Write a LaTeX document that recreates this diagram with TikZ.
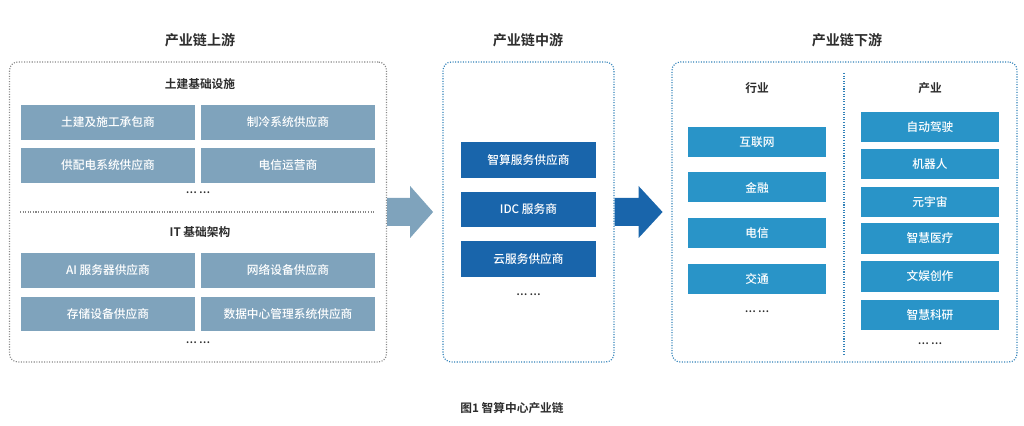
\documentclass[tikz,border=0pt]{standalone}
\usepackage{fontspec}
\setmainfont{Noto Sans CJK SC}[BoldFont={Noto Sans CJK SC Bold}]
\newfontfamily\medfont{Noto Sans CJK SC Medium}
\definecolor{titlegray}{RGB}{45,45,45}
\definecolor{upgray}{RGB}{127,163,188}
\definecolor{midblue}{RGB}{25,101,171}
\definecolor{downblue}{RGB}{41,148,200}
\definecolor{framegray}{RGB}{135,135,135}
\definecolor{frameblue}{RGB}{50,130,185}

\begin{document}
\begin{tikzpicture}[x=0.03cm, y=-0.03cm,
  title/.style={font=\fontsize{12}{14}\selectfont\bfseries, text=titlegray},
  head/.style={font=\fontsize{10}{12}\selectfont\bfseries, text=titlegray},
  frame/.style={draw, dash pattern=on 0.9pt off 1.3pt, line width=1pt, rounded corners=0.25cm},
  gbox/.style={rectangle, fill=upgray, text=white, minimum width=5.2cm, minimum height=1.04cm, inner sep=0pt, font=\medfont\fontsize{10}{12}\selectfont},
  mbox/.style={rectangle, fill=midblue, text=white, minimum width=4.05cm, minimum height=1.07cm, inner sep=0pt, font=\medfont\fontsize{10}{12}\selectfont},
  dbox/.style={rectangle, fill=downblue, text=white, minimum width=4.14cm, minimum height=0.9cm, inner sep=0pt, font=\medfont\fontsize{10}{12}\selectfont},
  more/.style={text=titlegray, font=\fontsize{8.5}{10}\selectfont\bfseries}
]
\useasboundingbox (0,0) rectangle (1024,426);

% titles
\node[title] (uptitle) at (200,40) {产业链上游};
\node[title] (midtitle) at (528,40) {产业链中游};
\node[title] (downtitle) at (847,40) {产业链下游};

% frames
\node[frame, draw=framegray, minimum width=11.31cm, minimum height=9cm] (up) at (198,212) {};
\node[frame, draw=frameblue, minimum width=5.13cm, minimum height=9cm] (mid) at (528.5,212) {};
\node[frame, draw=frameblue, minimum width=10.35cm, minimum height=9cm] (down) at (844.5,212) {};

% upstream
\node[head] (civil) at (200,84) {土建基础设施};
\node[gbox] (u1) at (108,122.5) {土建及施工承包商};
\node[gbox] (u2) at (288,122.5) {制冷系统供应商};
\node[gbox] (u3) at (108,165.5) {供配电系统供应商};
\node[gbox] (u4) at (288,165.5) {电信运营商};
\node[more] (umore1) at (198,193) {… …};
\draw[framegray, dash pattern=on 0.9pt off 1.3pt, line width=1pt] (20,212) -- (375,212);
\node[head] (itinfra) at (200,232) {IT 基础架构};
\node[gbox] (u5) at (108,270.5) {AI 服务器供应商};
\node[gbox] (u6) at (288,270.5) {网络设备供应商};
\node[gbox] (u7) at (108,314) {存储设备供应商};
\node[gbox] (u8) at (288,314) {数据中心管理系统供应商};
\node[more] (umore2) at (198,343) {… …};

% midstream
\node[mbox] (m1) at (528.5,160) {智算服务供应商};
\node[mbox] (m2) at (528.5,209.5) {IDC 服务商};
\node[mbox] (m3) at (528.5,259) {云服务供应商};
\node[more] (mmore) at (528.5,295) {… …};

% downstream
\draw[frameblue, dash pattern=on 0.9pt off 1.3pt, line width=1pt] (844,73) -- (844,355);
\node[head] (industry) at (757,88) {行业};
\node[head] (sector) at (930,88) {产业};
\node[dbox] (d1) at (757,142) {互联网};
\node[dbox] (d2) at (757,187.5) {金融};
\node[dbox] (d3) at (757,233) {电信};
\node[dbox] (d4) at (757,279) {交通};
\node[more] (dmore1) at (757,312) {… …};
\node[dbox] (s1) at (930,127) {自动驾驶};
\node[dbox] (s2) at (930,164) {机器人};
\node[dbox] (s3) at (930,202) {元宇宙};
\node[dbox] (s4) at (930,238.5) {智慧医疗};
\node[dbox] (s5) at (930,276.5) {文娱创作};
\node[dbox] (s6) at (930,315) {智慧科研};
\node[more] (dmore2) at (930,344) {… …};

% arrows
\fill[upgray] (up.east) ++(0,-14) -- ++(23,0) -- ++(0,-12) -- ++(23,26) -- ++(-23,26) -- ++(0,-12) -- ++(-23,0) -- cycle;
\fill[midblue] (mid.east) ++(0,-14) -- ++(24,0) -- ++(0,-12) -- ++(24,26) -- ++(-24,26) -- ++(0,-12) -- ++(-24,0) -- cycle;

\node[title, font=\fontsize{10}{12}\selectfont\bfseries] (caption) at (512,408) {图1 智算中心产业链};
\end{tikzpicture}
\end{document}
